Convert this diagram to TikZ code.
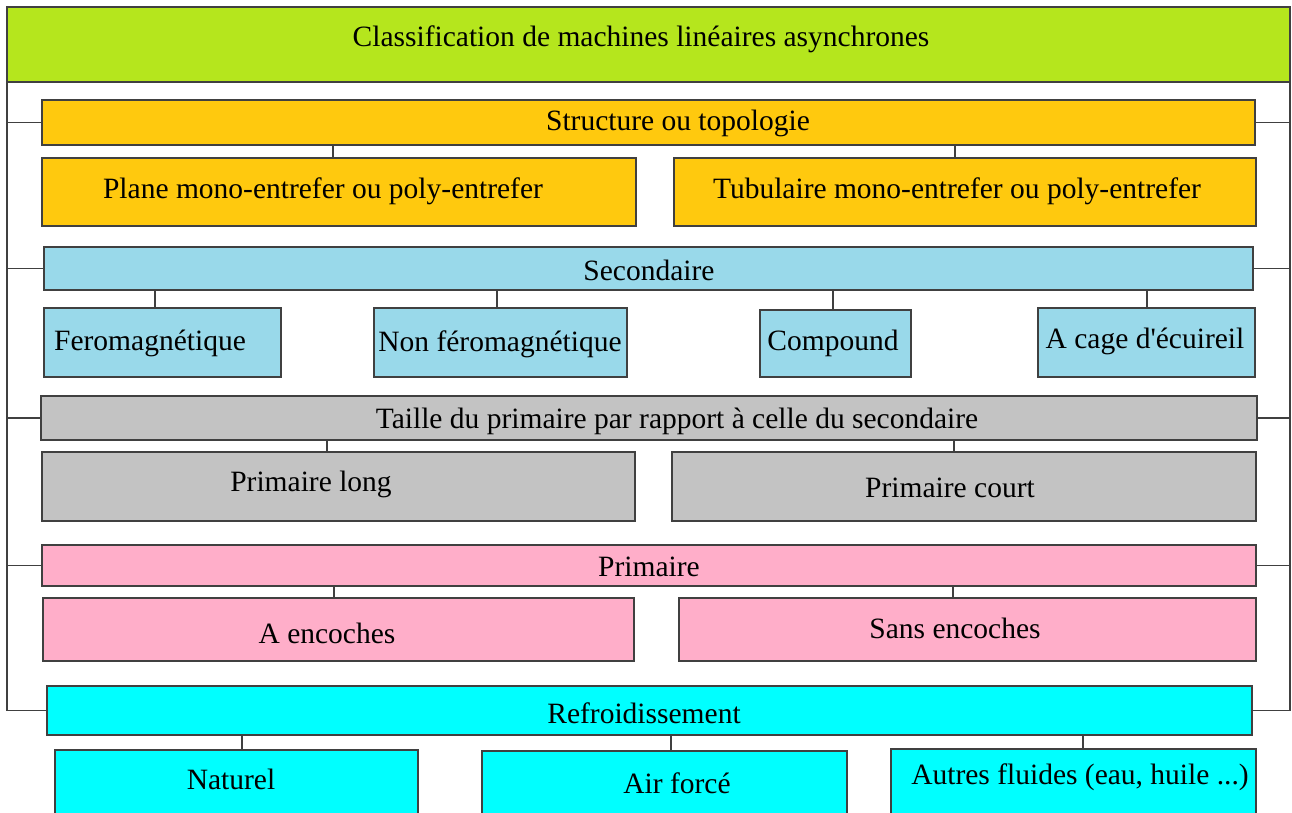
\documentclass[tikz,border=0pt]{standalone}
\usepackage{fontspec}
\setmainfont{Liberation Serif}
\definecolor{cgreen}{HTML}{B5E61D}
\definecolor{corange}{HTML}{FFC90E}
\definecolor{cblue}{HTML}{99D9EA}
\definecolor{cgray}{HTML}{C3C3C3}
\definecolor{cpink}{HTML}{FFAEC9}
\definecolor{ccyan}{HTML}{00FFFF}
\definecolor{cline}{HTML}{404040}
\tikzset{
  box/.style={draw=cline, line width=1.3pt, rectangle, inner sep=0pt, outer sep=0pt},
  txt/.style={inner sep=0pt, font=\fontsize{29.5}{32}\selectfont, text=black, yshift=-2pt},
  conn/.style={draw=cline, line width=1.3pt},
}
\newcommand{\bx}[6]{\node[box, fill=#6, minimum width={#4-#2}, minimum height={#5-#3}] (#1) at ({(#2+#4)/2},{(#3+#5)/2}) {};}
\begin{document}
\begin{tikzpicture}[x=1pt, y=-1pt]
\useasboundingbox (0,0) rectangle (1292,812);
\clip (0,0) rectangle (1292,812);
\fill[white] (0,0) rectangle (1292,812);
% title
\bx{title}{7}{7}{1290}{82}{cgreen}
\node[txt] (ttitle) at (641,37) {Classification de machines linéaires asynchrones};
% structure
\bx{struct}{42}{100}{1255}{145}{corange}
\node[txt] (tstruct) at (678,121) {Structure ou topologie};
\bx{plane}{42}{158}{636}{226}{corange}
\node[txt] (tplane) at (323,189) {Plane mono-entrefer ou poly-entrefer};
\bx{tub}{674}{158}{1256}{226}{corange}
\node[txt] (ttub) at (957,189) {Tubulaire mono-entrefer ou poly-entrefer};
% secondaire
\bx{sec}{44}{247}{1253}{290}{cblue}
\node[txt] (tsec) at (649,268) {Secondaire};
\bx{fero}{44}{308}{281}{377}{cblue}
\node[txt] (tfero) at (150,341) {Feromagnétique};
\bx{nonfero}{374}{308}{627}{377}{cblue}
\node[txt] (tnonfero) at (500,342) {Non féromagnétique};
\bx{comp}{760}{310}{911}{377}{cblue}
\node[txt] (tcomp) at (833,341) {Compound};
\bx{cage}{1038}{308}{1255}{377}{cblue}
\node[txt] (tcage) at (1145,339) {A cage d\textquotesingle écuireil};
% taille
\bx{taille}{41}{396}{1257}{440}{cgray}
\node[txt] (ttaille) at (677,419) {Taille du primaire par rapport à celle du secondaire};
\bx{plong}{42}{452}{635}{521}{cgray}
\node[txt] (tplong) at (311,482) {Primaire long};
\bx{pcourt}{672}{452}{1256}{521}{cgray}
\node[txt] (tpcourt) at (950,486) {Primaire court};
% primaire
\bx{prim}{42}{545}{1256}{586}{cpink}
\node[txt] (tprim) at (649,565) {Primaire};
\bx{aenc}{43}{598}{634}{661}{cpink}
\node[txt] (taenc) at (327,631) {A encoches};
\bx{senc}{679}{598}{1256}{661}{cpink}
\node[txt] (tsenc) at (955,626) {Sans encoches};
% refroidissement
\bx{refr}{47}{686}{1252}{735}{ccyan}
\node[txt] (trefr) at (644,711) {Refroidissement};
\bx{nat}{55}{750}{418}{830}{ccyan}
\node[txt] (tnat) at (231,777) {Naturel};
\bx{air}{482}{751}{847}{830}{ccyan}
\node[txt] (tair) at (677,781) {Air forcé};
\bx{autres}{891}{749}{1256}{830}{ccyan}
\node[txt] (tautres) at (1080,775) {Autres fluides (eau, huile ...)};
% outer frame
\draw[conn] (title.south west) -- (refr.west -| title.south west) -- (refr.west);
\draw[conn] (title.south east) -- (refr.east -| title.south east) -- (refr.east);
\foreach \b in {struct,sec,taille,prim}{
  \draw[conn] (\b.west -| title.west) -- (\b.west);
  \draw[conn] (\b.east -| title.east) -- (\b.east);
}
% vertical connectors
\coordinate (k1) at (333,0); \coordinate (k2) at (955,0);
\draw[conn] (struct.south -| k1) -- (plane.north -| k1);
\draw[conn] (struct.south -| k2) -- (tub.north -| k2);
\coordinate (k3) at (155,0); \coordinate (k4) at (497,0);
\coordinate (k5) at (833,0); \coordinate (k6) at (1147,0);
\draw[conn] (sec.south -| k3) -- (fero.north -| k3);
\draw[conn] (sec.south -| k4) -- (nonfero.north -| k4);
\draw[conn] (sec.south -| k5) -- (comp.north -| k5);
\draw[conn] (sec.south -| k6) -- (cage.north -| k6);
\coordinate (k7) at (327,0); \coordinate (k8) at (954,0);
\draw[conn] (taille.south -| k7) -- (plong.north -| k7);
\draw[conn] (taille.south -| k8) -- (pcourt.north -| k8);
\coordinate (k9) at (334,0); \coordinate (k10) at (953,0);
\draw[conn] (prim.south -| k9) -- (aenc.north -| k9);
\draw[conn] (prim.south -| k10) -- (senc.north -| k10);
\coordinate (k11) at (242,0); \coordinate (k12) at (671,0); \coordinate (k13) at (1083,0);
\draw[conn] (refr.south -| k11) -- (nat.north -| k11);
\draw[conn] (refr.south -| k12) -- (air.north -| k12);
\draw[conn] (refr.south -| k13) -- (autres.north -| k13);
\end{tikzpicture}
\end{document}
